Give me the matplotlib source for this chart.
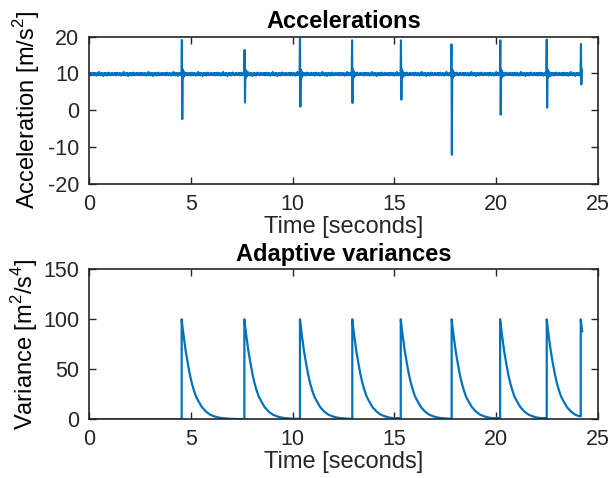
import numpy as np
import matplotlib
matplotlib.use('Agg')
import matplotlib.pyplot as plt

BLUE = '#0072BD'
DARK = '#262626'

# accelerometer trace: resting level plus impact spikes
fs = 50
end_time = 24.22
baseline = 9.8
jitter = [0.12, -0.25, 0.31, -0.08, 0.22, -0.35, 0.05, 0.28, -0.18, 0.4, -0.12, 0.02, -0.3,
	0.18, -0.05, 0.33, -0.22, 0.1, -0.4, 0.15, 0.26, -0.14, 0.08, -0.28, 0.6, -0.2, 0.04,
	-0.1, 0.24, -0.33, 0.14, -0.02, 0.3, -0.16, 0.2, -0.5, 0.09, 0.17, -0.26, 0.35, -0.07,
	0.11, -0.19, 0.27, -0.38, 0.06, 0.21, -0.11, 0.45, -0.24, 0.13, -0.04, 0.19, -0.29,
	0.03, 0.23, -0.15, 0.37, -0.09, -0.21, 0.16]
spike_times = [4.55, 7.63, 10.36, 12.93, 15.31, 17.81, 20.19, 22.48, 24.15]
spike_highs = [19.1, 16.4, 19.5, 19.0, 19.0, 17.9, 19.0, 19.2, 18.0]
spike_lows = [-2.4, 2.1, 1.0, 2.0, 2.9, -12.1, -1.2, 0.7, 7.0]
ringing = [1.3, -1.0, 0.8, -0.6, 0.5, -0.4]

# variance after each reset
decay_t = [0.0, 0.05, 0.1, 0.2, 0.3, 0.4, 0.5, 0.6, 0.7, 0.8, 1.0, 1.2, 1.4, 1.6, 1.8, 2.0, 2.4, 2.8, 3.2]
decay_v = [100, 91, 83, 68, 56, 45, 36, 29, 23, 19, 12, 7.6, 4.6, 3.0, 1.8, 1.2, 0.5, 0.2, 0.1]
end_variance = 88


def acceleration_trace():
	t = np.arange(0, end_time, 1.0 / fs)
	acc = baseline + np.resize(np.array(jitter), len(t))
	for ts, hi, lo in zip(spike_times, spike_highs, spike_lows):
		i = int(round(ts * fs))
		vals = [hi, lo] + [baseline + r for r in ringing]
		for k, v in enumerate(vals):
			if i + k < len(acc):
				acc[i + k] = v
	return t, acc


def variance_trace():
	t, v = [0.0], [0.0]
	for n, ts in enumerate(spike_times):
		stop = spike_times[n + 1] if n + 1 < len(spike_times) else end_time
		t.append(ts)
		v.append(v[-1])
		for dt, val in zip(decay_t, decay_v):
			if ts + dt < stop:
				t.append(ts + dt)
				v.append(val)
	t.append(end_time)
	v.append(end_variance)
	return t, v


plt.rcParams['font.family'] = ['Liberation Sans', 'DejaVu Sans']
plt.rcParams['mathtext.fontset'] = 'custom'
plt.rcParams['mathtext.rm'] = 'Liberation Sans'
plt.rcParams['axes.unicode_minus'] = False

fig = plt.figure(figsize=(6.11, 4.78), dpi=100)
ax1 = fig.add_axes([0.1457, 0.6151, 0.8331, 0.3083])
ax2 = fig.add_axes([0.1457, 0.1228, 0.8331, 0.3138])

t, acc = acceleration_trace()
ax1.plot(t, acc, color=BLUE, lw=1.5)
ax1.set_ylim(-20, 20)
ax1.set_yticks([-20, -10, 0, 10, 20])
ax1.set_title('Accelerations', fontsize=17, fontweight='bold', pad=6)
ax1.set_ylabel('Acceleration [m/s$^{\\mathregular{2}}$]', fontsize=17, labelpad=4)

tv, var = variance_trace()
ax2.plot(tv, var, color=BLUE, lw=1.6)
ax2.set_ylim(0, 150)
ax2.set_yticks([0, 50, 100, 150])
ax2.set_title('Adaptive variances', fontsize=17, fontweight='bold', pad=6)
ax2.set_ylabel('Variance [m$^{\\mathregular{2}}$/s$^{\\mathregular{4}}$]', fontsize=17, labelpad=2)

for ax in (ax1, ax2):
	ax.set_xlim(0, 25)
	ax.set_xticks([0, 5, 10, 15, 20, 25])
	ax.set_xlabel('Time [seconds]', fontsize=17, labelpad=1, color=DARK)
	ax.tick_params(direction='in', top=True, right=True, length=5, width=1.0,
		labelsize=15.5, colors=DARK, pad=7)
	for s in ax.spines.values():
		s.set_linewidth(1.2)
		s.set_color(DARK)

fig.savefig('out.png', dpi=100)
